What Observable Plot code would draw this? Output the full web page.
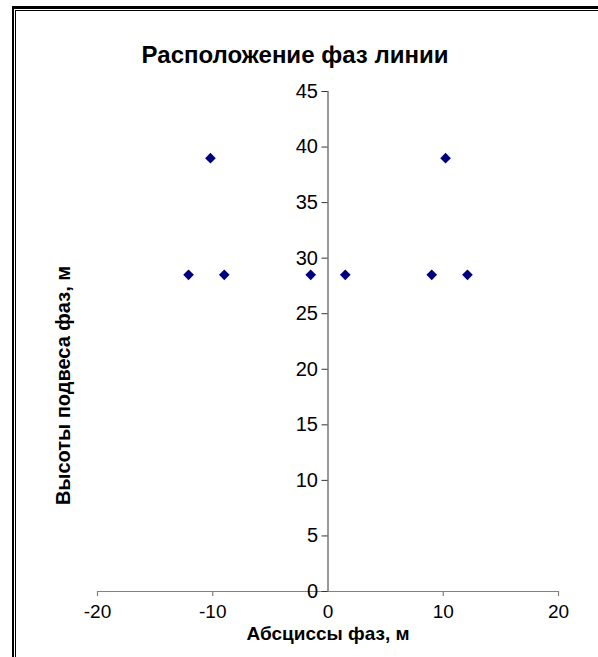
<!DOCTYPE html>
<html>
<head>
<meta charset="utf-8">
<script src="https://cdn.jsdelivr.net/npm/d3@7"></script>
<script src="https://cdn.jsdelivr.net/npm/@observablehq/plot@0.6"></script>
<style>
  html, body { margin: 0; padding: 0; background: #fff; overflow: hidden; }
  #wrap { position: relative; width: 598px; height: 657px; overflow: hidden; font-family: "Liberation Sans", Arial, sans-serif; }
  .bar { position: absolute; background: #000; }
  #chart { position: absolute; left: 0; top: 0; }
</style>
</head>
<body>
<div id="wrap">
  <div class="bar" style="left:12px; top:6px; width:2px; height:651px;"></div>
  <div class="bar" style="left:12px; top:6px; width:586px; height:3px;"></div>
  <div class="bar" style="left:15px; top:10px; width:1px; height:647px;"></div>
  <div class="bar" style="left:15px; top:10px; width:583px; height:1px;"></div>
  <div id="chart"></div>
</div>
<script>
const title = "Расположение фаз линии";
const xTitle = "Абсциссы фаз, м";
const yTitle = "Высоты подвеса фаз, м";
const phaseX = [-12.1, -10.2, -9.0, -1.5, 1.5, 9.0, 10.2, 12.1];
const phaseY = [28.5, 39.0, 28.5, 28.5, 28.5, 28.5, 39.0, 28.5];
const xTicks = [-20, -10, 0, 10, 20];
const yTicks = [0, 5, 10, 15, 20, 25, 30, 35, 40, 45];

const points = phaseX.map((x, i) => ({x, y: phaseY[i]}));
const font = "Liberation Sans, Arial, sans-serif";

const plot = Plot.plot({
  width: 598,
  height: 657,
  marginLeft: 97,
  marginRight: 40,
  marginTop: 91,
  marginBottom: 66,
  x: {domain: [xTicks[0], xTicks[xTicks.length - 1]], axis: null},
  y: {domain: [yTicks[0], yTicks[yTicks.length - 1]], axis: null},
  style: {fontFamily: font, background: "transparent", overflow: "visible"},
  marks: [
    // x axis line and ticks
    Plot.ruleY([0], {x1: xTicks[0], x2: xTicks[xTicks.length - 1], stroke: "#808080", strokeWidth: 1.2}),
    Plot.ruleX(xTicks.filter(d => d !== 0), {x: d => d, y1: 0, y2: 0, insetBottom: -5, stroke: "#808080", strokeWidth: 1.2}),
    // y axis line and ticks
    Plot.ruleX([0], {y1: yTicks[0], y2: yTicks[yTicks.length - 1], stroke: "#333", strokeWidth: 1}),
    Plot.ruleY(yTicks, {y: d => d, x1: 0, x2: 0, insetLeft: -6, stroke: "#333", strokeWidth: 1}),
    // tick labels
    Plot.text(yTicks, {x: 0, y: d => d, text: d => String(d), textAnchor: "end", dx: -10, fontSize: 20, fill: "#000"}),
    Plot.text(xTicks, {x: d => d, y: 0, text: d => String(d), dy: 20, fontSize: 19, fill: "#000"}),
    // points
    Plot.dot(points, {x: "x", y: "y", symbol: "diamond2", r: 4.8, fill: "#000080", stroke: "none"}),
    // titles
    Plot.text([title], {frameAnchor: "top", text: d => d, dx: -33, dy: -46, fontSize: 24, fontWeight: "bold", fill: "#000"}),
    Plot.text([xTitle], {frameAnchor: "bottom", text: d => d, dy: 48, fontSize: 19, fontWeight: "bold", fill: "#000"}),
    Plot.text([yTitle], {frameAnchor: "left", text: d => d, textAnchor: "middle", dx: -34, dy: 44, rotate: -90, fontSize: 20, fontWeight: "bold", fill: "#000"})
  ]
});
document.getElementById("chart").appendChild(plot);
</script>
</body>
</html>
